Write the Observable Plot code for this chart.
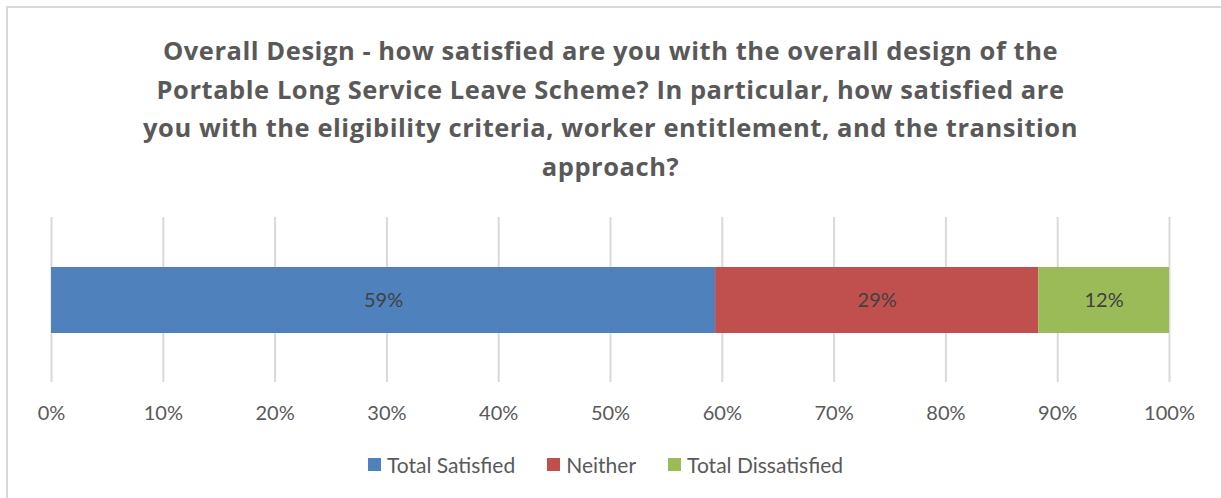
<!DOCTYPE html>
<html>
<head>
<meta charset="utf-8">
<script src="https://cdn.jsdelivr.net/npm/d3@7"></script>
<script src="https://cdn.jsdelivr.net/npm/@observablehq/plot@0.6"></script>
<style>
  html, body { margin: 0; padding: 0; background: #fff; overflow: hidden; }
  #wrap { position: relative; width: 1221px; height: 498px; overflow: hidden; font-family: Lato, "Open Sans", sans-serif; }
  #frame { position: absolute; left: 6px; top: 6px; width: 1400px; height: 700px; border: 2px solid #d9d9d9; box-sizing: border-box; }
  #title { position: absolute; left: 0; top: 31px; width: 1221px; text-align: center; color: #595959; font-family: "Open Sans", Lato, sans-serif; font-weight: bold; font-size: 25.5px; letter-spacing: 0.55px; line-height: 38.5px; }
  #chart { position: absolute; left: 0; top: 195px; }
  #legend { position: absolute; left: -5px; top: 452px; width: 1221px; display: flex; justify-content: center; gap: 32px; color: #595959; font-size: 21px; }
  #legend span.item { display: inline-flex; align-items: center; }
  #legend span.sw { display: inline-block; width: 13px; height: 13px; margin-right: 6px; }
</style>
</head>
<body>
<div id="wrap">
  <div id="frame"></div>
  <div id="title"></div>
  <div id="chart"></div>
  <div id="legend"></div>
</div>
<script>
const titleLines = [
  "Overall Design - how satisfied are you with the overall design of the",
  "Portable Long Service Leave Scheme? In particular, how satisfied are",
  "you with the eligibility criteria, worker entitlement, and the transition",
  "approach?"
];
const categories = ["Total Satisfied", "Neither", "Total Dissatisfied"];
const values = [59.4, 28.9, 11.7];
const colors = ["#4f81bd", "#c0504d", "#9bbb59"];
const tickValues = [0, 10, 20, 30, 40, 50, 60, 70, 80, 90, 100];
const tickLabels = ["0%", "10%", "20%", "30%", "40%", "50%", "60%", "70%", "80%", "90%", "100%"];
const rowName = "Overall Design";

document.getElementById("title").innerHTML = titleLines.join("<br>");

const data = categories.map((c, i) => ({row: rowName, category: c, order: i, value: values[i], label: Math.round(values[i]) + "%"}));

const chart = Plot.plot({
  width: 1221,
  height: 240,
  marginLeft: 51,
  marginRight: 52,
  marginTop: 22,
  marginBottom: 53,
  style: { fontFamily: "Lato, 'Open Sans', sans-serif", background: "transparent" },
  x: { domain: [0, 100], ticks: tickValues, label: null },
  y: { domain: [rowName], padding: 0.4286, axis: null, label: null },
  color: { domain: categories, range: colors },
  marks: [
    Plot.ruleX(tickValues, { stroke: "#d9d9d9", strokeWidth: 2 }),
    Plot.barX(data, Plot.stackX({ x: "value", y: "row", fill: "category", z: "category", order: "order" })),
    Plot.text(data, Plot.stackX({ x: "value", y: "row", z: "category", order: "order", text: "label", fill: "#404040", fontSize: 20 })),
    Plot.axisX({ ticks: tickValues, tickFormat: (d) => tickLabels[tickValues.indexOf(d)], tickSize: 0, tickPadding: 23, fontSize: 20, color: "#595959", label: null })
  ]
});
document.getElementById("chart").appendChild(chart);

const legend = document.getElementById("legend");
categories.forEach((c, i) => {
  const item = document.createElement("span");
  item.className = "item";
  item.innerHTML = `<span class="sw" style="background:${colors[i]}"></span>${c}`;
  legend.appendChild(item);
});
</script>
</body>
</html>
